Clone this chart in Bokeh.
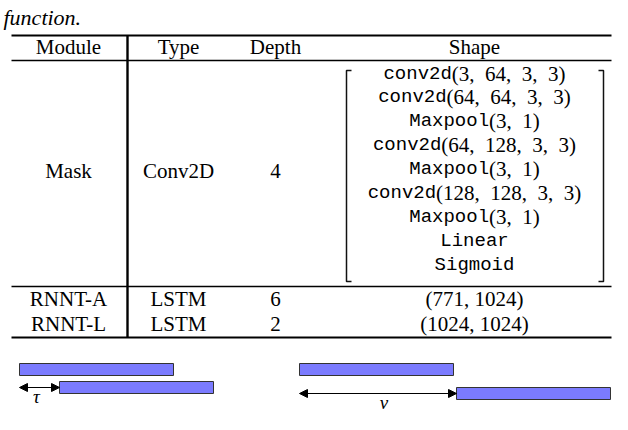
from bokeh.plotting import figure
from bokeh.models import Range1d, Arrow, NormalHead
from bokeh.core.properties import value
from bokeh.embed import file_html
from bokeh.resources import INLINE

# ---- table content ----
caption_tail = "function."
headers = ["Module", "Type", "Depth", "Shape"]
modules = ["Mask", "RNNT-A", "RNNT-L"]
types = ["Conv2D", "LSTM", "LSTM"]
depths = ["4", "6", "2"]
mask_shape = [
    "conv2d(3, 64, 3, 3)",
    "conv2d(64, 64, 3, 3)",
    "Maxpool(3, 1)",
    "conv2d(64, 128, 3, 3)",
    "Maxpool(3, 1)",
    "conv2d(128, 128, 3, 3)",
    "Maxpool(3, 1)",
    "Linear",
    "Sigmoid",
]
lstm_shapes = ["(771, 1024)", "(1024, 1024)"]

# ---- diagram content (schematic segments) ----
seg_start = [19, 59, 299, 456]
seg_length = [154, 154, 154, 154]
seg_row = [0, 1, 0, 1]
diag_labels = ["\u03c4", "\u03bd"]

# ---- layout (picture pixel coordinates) ----
W, H = 612, 414
p = figure(width=W, height=H, x_range=Range1d(0, W), y_range=Range1d(H, 0),
           output_backend="svg", toolbar_location=None, min_border=0)
p.axis.visible = False
p.grid.visible = False
p.outline_line_color = None
p.background_fill_color = "white"

SERIF = value("Liberation Serif")
MONO = value("Liberation Mono")
FS = 21
col_x = [68, 178, 275, 474]
header_y = 46
row_y = [170, 298, 323]
shape_y0, shape_dy = 73, 23.9

# caption fragment
p.text(x=[3], y=[17], text=[caption_tail], text_font=SERIF, text_font_style="italic",
       text_font_size="22px", text_baseline="alphabetic", text_align="left", text_color="black")

# rules
x_left, x_right, x_vert = 11, 611, 127
y_top, y_head, y_mid, y_bot = 35, 60, 286, 337
p.segment(x0=[x_left] * 4, x1=[x_right] * 4,
          y0=[y_top, y_head, y_mid, y_bot], y1=[y_top, y_head, y_mid, y_bot],
          line_color="black", line_width=[2.2, 1.6, 1.6, 2.2])
p.segment(x0=[x_vert], x1=[x_vert], y0=[y_top], y1=[y_bot], line_color="black", line_width=2.4)

# header
p.text(x=col_x, y=[header_y] * 4, text=headers, text_font=SERIF, text_font_size=f"{FS}px",
       text_align="center", text_baseline="middle", text_color="black")
# rows
p.text(x=[col_x[0]] * 3, y=row_y, text=modules, text_font=SERIF, text_font_size=f"{FS}px",
       text_align="center", text_baseline="middle", text_color="black")
p.text(x=[col_x[1]] * 3, y=row_y, text=types, text_font=SERIF, text_font_size=f"{FS}px",
       text_align="center", text_baseline="middle", text_color="black")
p.text(x=[col_x[2]] * 3, y=row_y, text=depths, text_font=SERIF, text_font_size=f"{FS}px",
       text_align="center", text_baseline="middle", text_color="black")
p.text(x=[col_x[3]] * 2, y=row_y[1:], text=lstm_shapes, text_font=SERIF, text_font_size=f"{FS}px",
       text_align="center", text_baseline="middle", text_color="black")

# mask shape: typewriter name + roman (math-style spaced) arguments
FM = 19
times_w = {"(": 0.333, ")": 0.333, ",": 0.25, " ": 0.25, "\u2002": 0.5}
mx, my, mt, ax, ay, at = [], [], [], [], [], []
for i, s in enumerate(mask_shape):
    y = shape_y0 + i * shape_dy
    if "(" in s:
        k = s.index("(")
        name, args = s[:k], s[k:].replace(", ", ",\u2002")
    else:
        name, args = s, ""
    wn = 0.6 * FM * len(name)
    wa = sum(times_w.get(c, 0.5) for c in args) * FS
    left = col_x[3] - (wn + wa) / 2
    mx.append(left); my.append(y); mt.append(name)
    if args:
        ax.append(left + wn); ay.append(y); at.append(args)
p.text(x=mx, y=my, text=mt, text_font=MONO, text_font_size=f"{FM}px",
       text_align="left", text_baseline="middle", text_color="black")
p.text(x=ax, y=ay, text=at, text_font=SERIF, text_font_size=f"{FS}px",
       text_align="left", text_baseline="middle", text_color="black")

# brackets
bl, br, bt, bb, tick = 346, 603, 70, 281, 5
p.multi_line(xs=[[bl + tick, bl, bl, bl + tick], [br - tick, br, br, br - tick]],
             ys=[[bt, bt, bb, bb], [bt, bt, bb, bb]], line_color="#111111", line_width=1.5)

# ---- schematic diagram ----
row_top = [363, 381]
right_offset = 6  # second panel's lower row sits lower
tops, bots, lefts, rights = [], [], [], []
for s, L, r in zip(seg_start, seg_length, seg_row):
    t = row_top[r] + (right_offset if (s > 300 and r == 1) else 0)
    lefts.append(s); rights.append(s + L); tops.append(t); bots.append(t + 12)
p.quad(left=lefts, right=rights, top=tops, bottom=bots,
       fill_color="#7b7bff", line_color="#333333", line_width=1)

ay1 = row_top[1] + 6
ay2 = row_top[1] + right_offset + 6
for (xs, xe, yy) in [(seg_start[0], seg_start[1], ay1), (seg_start[2], seg_start[3], ay2)]:
    p.add_layout(Arrow(x_start=xs, y_start=yy, x_end=xe, y_end=yy, line_color="black", line_width=1,
                       start=NormalHead(size=8, fill_color="black", line_color="black"),
                       end=NormalHead(size=8, fill_color="black", line_color="black")))

p.text(x=[(seg_start[0] + seg_start[1]) / 2 - 3, (seg_start[2] + seg_start[3]) / 2 + 6],
       y=[ay1 + 9, ay2 + 9], text=diag_labels, text_font=SERIF, text_font_style="italic",
       text_font_size="19px", text_align="center", text_baseline="middle", text_color="black")

open("out.html", "w").write(file_html(p, INLINE))
